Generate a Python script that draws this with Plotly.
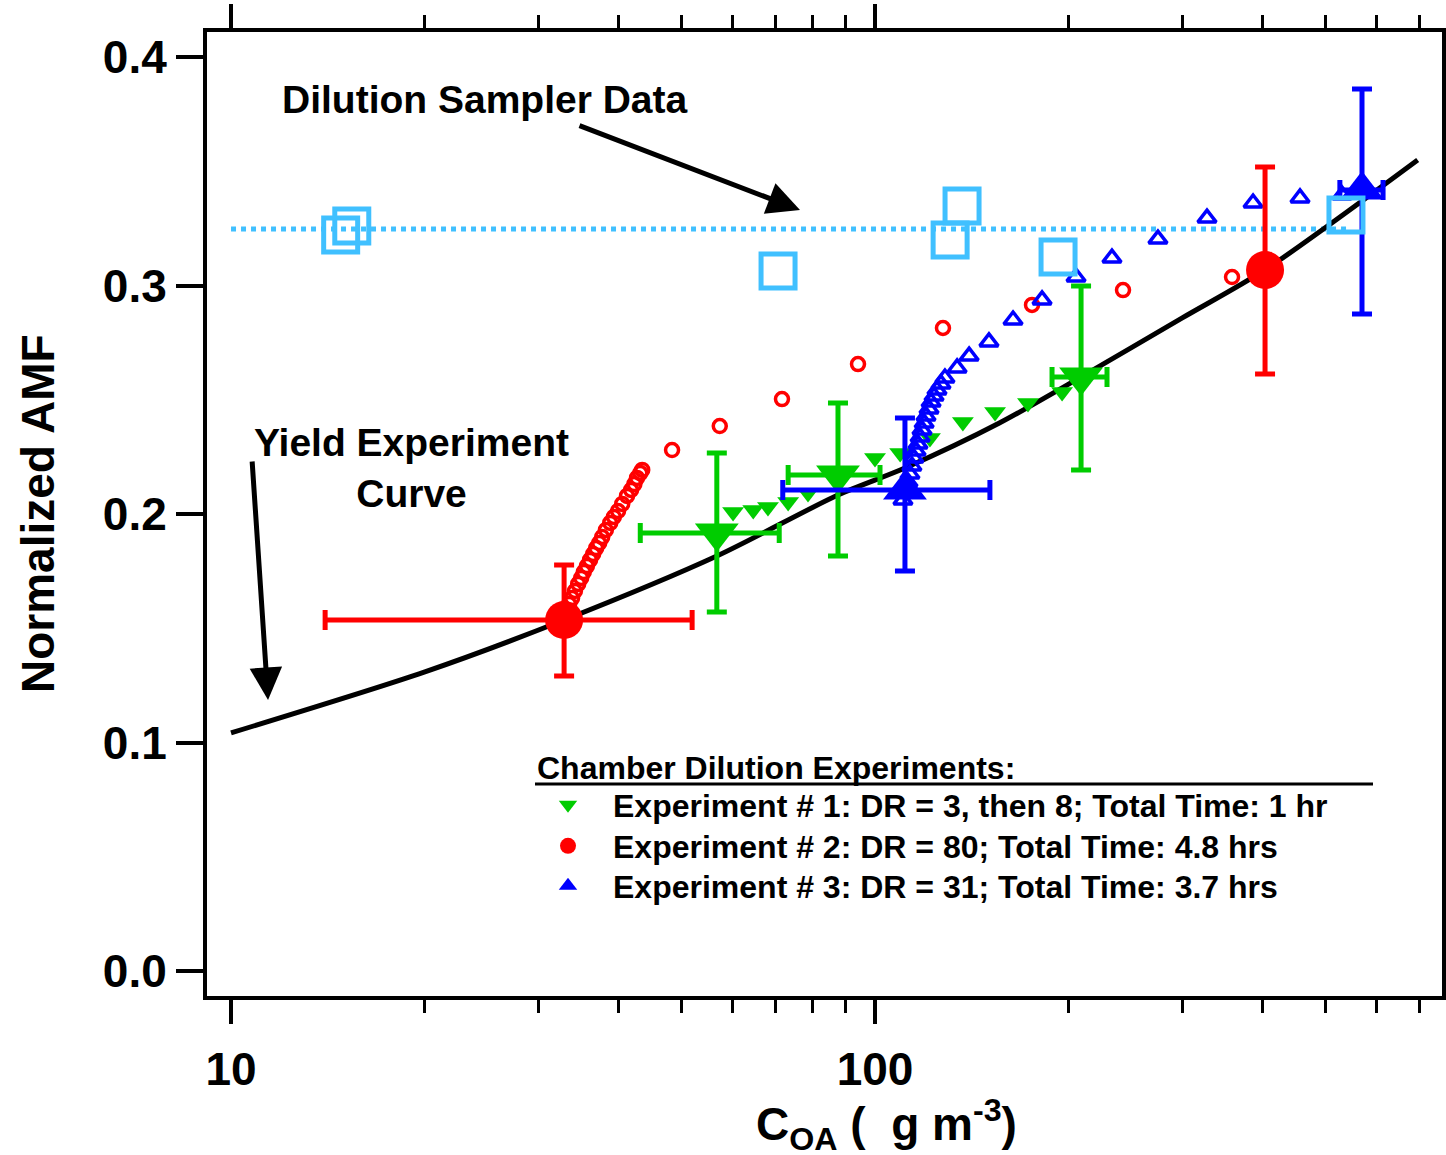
import plotly.graph_objects as go
import numpy as np

# ---------------- data ----------------
# Yield experiment curve
curve_x = [10, 20, 32.9, 56.8, 87.6, 111.3, 156, 209, 300, 403, 696]
curve_y = [0.1042, 0.1309, 0.1536, 0.1816, 0.2083, 0.2201, 0.2398, 0.2600, 0.2858, 0.3068, 0.3549]

# Dilution sampler data (open squares) and its mean line
sampler_x = [14.8, 15.4, 70.7, 130.8, 136.5, 192.4, 538.6]
sampler_y = [0.3221, 0.3260, 0.3063, 0.3199, 0.3348, 0.3125, 0.3309]
sampler_line_x = [10, 540]
sampler_line_y = [0.3247, 0.3247]

# Experiment 1 (green, small down triangles)
exp1_x = [60.2, 64.7, 68.2, 73.3, 78.7, 100.0, 109.4, 121.7, 136.9, 153.6, 172.8, 195.2]
exp1_y = [0.2009, 0.2018, 0.2031, 0.2053, 0.2092, 0.2245, 0.2267, 0.2333, 0.2403, 0.2446, 0.2486, 0.2534]
# Experiment 1 averages with error bars
exp1_avg_x = [56.8, 87.6, 208.9]
exp1_avg_y = [0.1917, 0.2171, 0.2600]
exp1_avg_xlo = [43.2, 73.3, 188.3]
exp1_avg_xhi = [71.0, 101.8, 229.2]
exp1_avg_ylo = [0.1571, 0.1816, 0.2193]
exp1_avg_yhi = [0.2267, 0.2486, 0.2998]

# Experiment 2 (red, small open circles)
exp2_x = [33.1, 33.5, 33.85, 34.2, 34.6, 34.97, 35.3, 35.7, 36.1, 36.5, 36.9, 37.3,
          37.7, 38.2, 38.8, 39.3, 39.9, 40.5, 41.2, 41.8, 42.3, 42.7, 43.2, 43.5,
          48.4, 57.4, 71.7, 94.1, 127.5, 175.3, 242.7, 358.4]
exp2_y = [0.1571, 0.1606, 0.1632, 0.1663, 0.1694, 0.1720, 0.1746, 0.1772, 0.1799, 0.1825, 0.1851, 0.1873,
          0.1899, 0.1930, 0.1961, 0.1987, 0.2013, 0.2044, 0.2079, 0.2105, 0.2131, 0.2158, 0.2179, 0.2193,
          0.2280, 0.2385, 0.2503, 0.2656, 0.2814, 0.2915, 0.2980, 0.3037]
exp2_avg_x = [32.9, 403.3]
exp2_avg_y = [0.1536, 0.3068]
exp2_avg_xlo = [14.0, 403.3]
exp2_avg_xhi = [52.0, 403.3]
exp2_avg_ylo = [0.1291, 0.2613]
exp2_avg_yhi = [0.1777, 0.3519]

# Experiment 3 (blue, small open triangles)
exp3_x = [110.5, 111.7, 112.5, 113.3, 114.1, 114.9, 115.8, 116.6, 117.5, 118.3, 119.2, 120.0,
          121.3, 122.2, 123.5, 124.8, 126.6, 128.4,
          134.1, 140.0, 150.3, 163.8, 181.7, 205.2, 233.3, 275.0, 327.7, 386.4, 457.0, 531.2]
exp3_y = [0.2061, 0.2105, 0.2140, 0.2175, 0.2210, 0.2245, 0.2276, 0.2306, 0.2337, 0.2368, 0.2398, 0.2429,
          0.2460, 0.2490, 0.2516, 0.2543, 0.2569, 0.2595,
          0.2639, 0.2691, 0.2753, 0.2849, 0.2937, 0.3037, 0.3120, 0.3203, 0.3295, 0.3361, 0.3383, 0.3396]
exp3_avg_x = [111.3, 570.4]
exp3_avg_y = [0.2105, 0.3418]
exp3_avg_xlo = [71.9, 527.0]
exp3_avg_xhi = [150.8, 615.0]
exp3_avg_ylo = [0.1751, 0.2875]
exp3_avg_yhi = [0.2420, 0.3860]

legend_names = ["Experiment # 1: DR = 3, then 8; Total Time: 1 hr",
                "Experiment # 2: DR = 80; Total Time: 4.8 hrs",
                "Experiment # 3: DR = 31; Total Time: 3.7 hrs"]

GREEN = "#00CC00"
RED = "#FF0000"
BLUE = "#0000FF"
LBLUE = "#40C0FF"
FONT = "Liberation Sans, Arial, sans-serif"

W, H = 1446, 1155
px0, px1, py0, py1 = 207, 1442, 32, 996


def paper_x(p):
    return (p - px0) / (px1 - px0)


def paper_y(p):
    return (py1 - p) / (py1 - py0)


fig = go.Figure()

# dotted mean line
fig.add_trace(go.Scatter(x=sampler_line_x, y=sampler_line_y, mode="lines",
                         line=dict(color=LBLUE, width=5, dash="5px,5px"), showlegend=False))
# yield curve
fig.add_trace(go.Scatter(x=curve_x, y=curve_y, mode="lines",
                         line=dict(color="black", width=5, shape="spline", smoothing=0.8),
                         showlegend=False))

# small markers
fig.add_trace(go.Scatter(x=exp1_x, y=exp1_y, mode="markers", showlegend=False,
                         marker=dict(symbol="triangle-down", size=19, color=GREEN)))
fig.add_trace(go.Scatter(x=exp2_x, y=exp2_y, mode="markers", showlegend=False,
                         marker=dict(symbol="circle-open", size=13, color=RED, line=dict(width=3.5, color=RED))))
fig.add_trace(go.Scatter(x=exp3_x, y=exp3_y, mode="markers", showlegend=False,
                         marker=dict(symbol="triangle-up-open", size=16, color=BLUE, line=dict(width=3.5, color=BLUE))))


def err(avg, lo, hi):
    a = np.array(avg)
    return (np.array(hi) - a).tolist(), (a - np.array(lo)).tolist()


legend_rows = [805, 846, 886]
for i, (ax_, ay_, xlo, xhi, ylo, yhi, col, sym, name) in enumerate([
    (exp1_avg_x, exp1_avg_y, exp1_avg_xlo, exp1_avg_xhi, exp1_avg_ylo, exp1_avg_yhi, GREEN, "triangle-down",
     legend_names[0]),
    (exp2_avg_x, exp2_avg_y, exp2_avg_xlo, exp2_avg_xhi, exp2_avg_ylo, exp2_avg_yhi, RED, "circle",
     legend_names[1]),
    (exp3_avg_x, exp3_avg_y, exp3_avg_xlo, exp3_avg_xhi, exp3_avg_ylo, exp3_avg_yhi, BLUE, "triangle-up",
     legend_names[2]),
]):
    xplus, xminus = err(ax_, xlo, xhi)
    yplus, yminus = err(ay_, ylo, yhi)
    fig.add_trace(go.Scatter(
        x=ax_, y=ay_, mode="markers", name=name,
        legend="legend" if i == 0 else f"legend{i + 1}",
        marker=dict(symbol=sym, size=38, color=col),
        error_x=dict(type="data", symmetric=False, array=xplus, arrayminus=xminus,
                     color=col, thickness=5, width=10),
        error_y=dict(type="data", symmetric=False, array=yplus, arrayminus=yminus,
                     color=col, thickness=5, width=10),
    ))

# sampler squares on top
fig.add_trace(go.Scatter(x=sampler_x, y=sampler_y, mode="markers", showlegend=False,
                         marker=dict(symbol="square-open", size=34, color=LBLUE, line=dict(width=5, color=LBLUE))))

axis_common = dict(showline=True, linecolor="black", linewidth=4, mirror="allticks",
                   ticks="outside", tickcolor="black", tickwidth=4, showgrid=False, zeroline=False,
                   automargin=False,
                   tickfont=dict(size=46, family=FONT, color="black", weight="bold"))

fig.update_xaxes(type="log", range=[0.9627, 2.8804], tickvals=[10, 100], ticktext=["10", "100"],
                 ticklen=24, ticklabelstandoff=6,
                 minor=dict(ticks="outside", ticklen=13, tickwidth=3, tickcolor="black",
                            tickvals=[20, 30, 40, 50, 60, 70, 80, 90, 200, 300, 400, 500, 600, 700]),
                 **axis_common)
fig.update_yaxes(range=[-0.01094, 0.41094], tickvals=[0, 0.1, 0.2, 0.3, 0.4],
                 ticktext=["0.0", "0.1", "0.2", "0.3", "0.4"], ticklen=27, **axis_common)

annots = [
    dict(text="Dilution Sampler Data", x=paper_x(485), y=paper_y(100), font=dict(size=39)),
    dict(text="Yield Experiment<br>Curve", x=paper_x(411), y=paper_y(468), font=dict(size=39), align="center"),
    dict(text="Normalized AMF", x=paper_x(38), y=0.5, textangle=-90, font=dict(size=46)),
    dict(text="C<sub>OA</sub> (  g m<sup>-3</sup>)", x=paper_x(886), y=paper_y(1124), font=dict(size=46)),
    dict(text="Chamber Dilution Experiments:", x=paper_x(535), y=paper_y(768), xanchor="left",
         font=dict(size=32)),
]
for a in annots:
    a.setdefault("xanchor", "center")
    a.update(xref="paper", yref="paper", yanchor="middle", showarrow=False)

annots += [
    dict(text="", x=1.8835, y=0.3330, xref="x", yref="y", ax=-222, ay=-85, showarrow=True,
         arrowhead=2, arrowsize=1.3, arrowwidth=5, arrowcolor="black", standoff=0),
    dict(text="", x=1.0575, y=0.1186, xref="x", yref="y", ax=-16, ay=-240, showarrow=True,
         arrowhead=2, arrowsize=1.3, arrowwidth=5, arrowcolor="black", standoff=0),
]

legend_common = dict(xanchor="left", yanchor="middle", bgcolor="rgba(0,0,0,0)", borderwidth=0,
                     font=dict(size=32, family=FONT, weight="bold", color="black"),
                     itemsizing="trace", itemwidth=80)

fig.update_layout(
    width=W, height=H, autosize=False,
    margin=dict(l=px0, r=W - px1, t=py0, b=H - py1, pad=0),
    paper_bgcolor="white", plot_bgcolor="white",
    font=dict(family=FONT, color="black", weight="bold"),
    annotations=annots,
    shapes=[dict(type="line", xref="paper", yref="paper", x0=paper_x(535), x1=paper_x(1373),
                 y0=paper_y(784), y1=paper_y(784), line=dict(color="black", width=3))],
    legend=dict(x=paper_x(523), y=paper_y(legend_rows[0]), **legend_common),
    legend2=dict(x=paper_x(523), y=paper_y(legend_rows[1]), **legend_common),
    legend3=dict(x=paper_x(523), y=paper_y(legend_rows[2]), **legend_common),
)

fig.write_html("out.html")
